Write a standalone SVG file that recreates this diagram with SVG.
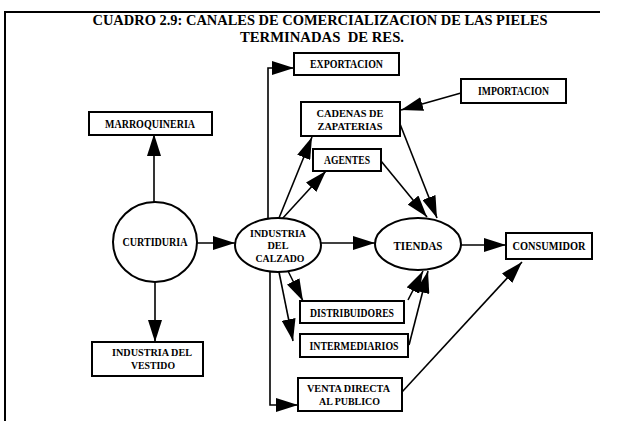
<svg xmlns="http://www.w3.org/2000/svg" width="631" height="421" viewBox="0 0 631 421">
<defs>
<marker id="ah" markerUnits="userSpaceOnUse" markerWidth="22" markerHeight="14" refX="22" refY="7" orient="auto">
<path d="M0,0 L22,7 L0,14 z" fill="#000"/>
</marker>
<style>
.box{fill:#fff;stroke:#000;stroke-width:2}
.ell{fill:#fff;stroke:#000;stroke-width:2}
.lbl{font-family:"Liberation Serif","Times New Roman",serif;font-weight:bold;font-size:12px;fill:#000;text-anchor:middle}
.ml{font-size:10.5px}
.ttl{font-family:"Liberation Serif","Times New Roman",serif;font-weight:bold;font-size:14.5px;fill:#000;text-anchor:middle}
.con{fill:none;stroke:#000;stroke-width:1.6;marker-end:url(#ah)}
</style>
</defs>
<rect width="631" height="421" fill="#fff"/>
<path d="M5,421 V12 H600" fill="none" stroke="#000" stroke-width="2"/>
<g id="title">
<text class="ttl" x="320" y="25" textLength="455" lengthAdjust="spacingAndGlyphs">CUADRO 2.9: CANALES DE COMERCIALIZACION DE LAS PIELES</text>
<text class="ttl" x="322" y="41.5" textLength="164" lengthAdjust="spacingAndGlyphs" xml:space="preserve">TERMINADAS  DE RES.</text>
</g>
<g id="connectors">
<path class="con" d="M154,203 V134"/>
<path class="con" d="M155,282 V342"/>
<path class="con" d="M197,243 H235"/>
<path class="con" d="M268,219 V68 H294"/>
<path class="con" d="M279,218 L312,137"/>
<path class="con" d="M282,219 L326,171"/>
<path class="con" d="M321,243 H375"/>
<path class="con" d="M288,271 L303,301"/>
<path class="con" d="M279,272 L293,341"/>
<path class="con" d="M270,272 V405 H298"/>
<path class="con" d="M461,93 L401,110"/>
<path class="con" d="M400,124 L437,218"/>
<path class="con" d="M381,161 L427,217"/>
<path class="con" d="M408,300 L423,271"/>
<path class="con" d="M409,345 L428,271"/>
<path class="con" d="M461,245 H506"/>
<path class="con" d="M402,392 L522,262"/>
</g>
<g id="exportacion"><rect class="box" x="294" y="53" width="105" height="22"/><text class="lbl" x="346.5" y="68" textLength="73" lengthAdjust="spacingAndGlyphs">EXPORTACION</text></g>
<g id="importacion"><rect class="box" x="461" y="79" width="105" height="24"/><text class="lbl" x="513.5" y="95" textLength="71" lengthAdjust="spacingAndGlyphs">IMPORTACION</text></g>
<g id="cadenas"><rect class="box" x="301" y="102" width="99" height="34"/><text class="lbl ml" x="350" y="117" textLength="67" lengthAdjust="spacingAndGlyphs">CADENAS DE</text><text class="lbl ml" x="350" y="129.5" textLength="65" lengthAdjust="spacingAndGlyphs">ZAPATERIAS</text></g>
<g id="marroquineria"><rect class="box" x="89" y="112" width="123" height="23"/><text class="lbl" x="150" y="128" textLength="90" lengthAdjust="spacingAndGlyphs">MARROQUINERIA</text></g>
<g id="agentes"><rect class="box" x="313" y="149" width="68" height="22"/><text class="lbl" x="347" y="164" textLength="46" lengthAdjust="spacingAndGlyphs">AGENTES</text></g>
<g id="curtiduria"><ellipse class="ell" cx="155" cy="242" rx="42" ry="40"/><text class="lbl" x="155" y="245.5" textLength="65" lengthAdjust="spacingAndGlyphs">CURTIDURIA</text></g>
<g id="industria-calzado"><ellipse class="ell" cx="278" cy="245" rx="43" ry="27"/><text class="lbl ml" x="278" y="236.5" textLength="56" lengthAdjust="spacingAndGlyphs">INDUSTRIA</text><text class="lbl ml" x="278" y="249" textLength="21" lengthAdjust="spacingAndGlyphs">DEL</text><text class="lbl ml" x="280" y="261.5" textLength="49" lengthAdjust="spacingAndGlyphs">CALZADO</text></g>
<g id="tiendas"><ellipse class="ell" cx="418" cy="244" rx="43" ry="26"/><text class="lbl" x="418" y="249.5" textLength="49" lengthAdjust="spacingAndGlyphs">TIENDAS</text></g>
<g id="consumidor"><rect class="box" x="506" y="233" width="86" height="26"/><text class="lbl" x="549" y="250" textLength="73" lengthAdjust="spacingAndGlyphs">CONSUMIDOR</text></g>
<g id="distribuidores"><rect class="box" x="300" y="301" width="104" height="22"/><text class="lbl" x="352" y="316.5" textLength="84" lengthAdjust="spacingAndGlyphs">DISTRIBUIDORES</text></g>
<g id="intermediarios"><rect class="box" x="300" y="334" width="108" height="23"/><text class="lbl" x="354" y="350" textLength="89" lengthAdjust="spacingAndGlyphs">INTERMEDIARIOS</text></g>
<g id="industria-vestido"><rect class="box" x="92" y="342" width="111" height="34"/><text class="lbl ml" x="152" y="356" textLength="80" lengthAdjust="spacingAndGlyphs">INDUSTRIA DEL</text><text class="lbl ml" x="153" y="368.5" textLength="44" lengthAdjust="spacingAndGlyphs">VESTIDO</text></g>
<g id="venta-directa"><rect class="box" x="298" y="378" width="104" height="33"/><text class="lbl ml" x="348.5" y="391.5" textLength="83" lengthAdjust="spacingAndGlyphs">VENTA DIRECTA</text><text class="lbl ml" x="349.5" y="404.5" textLength="61" lengthAdjust="spacingAndGlyphs">AL PUBLICO</text></g>
</svg>
